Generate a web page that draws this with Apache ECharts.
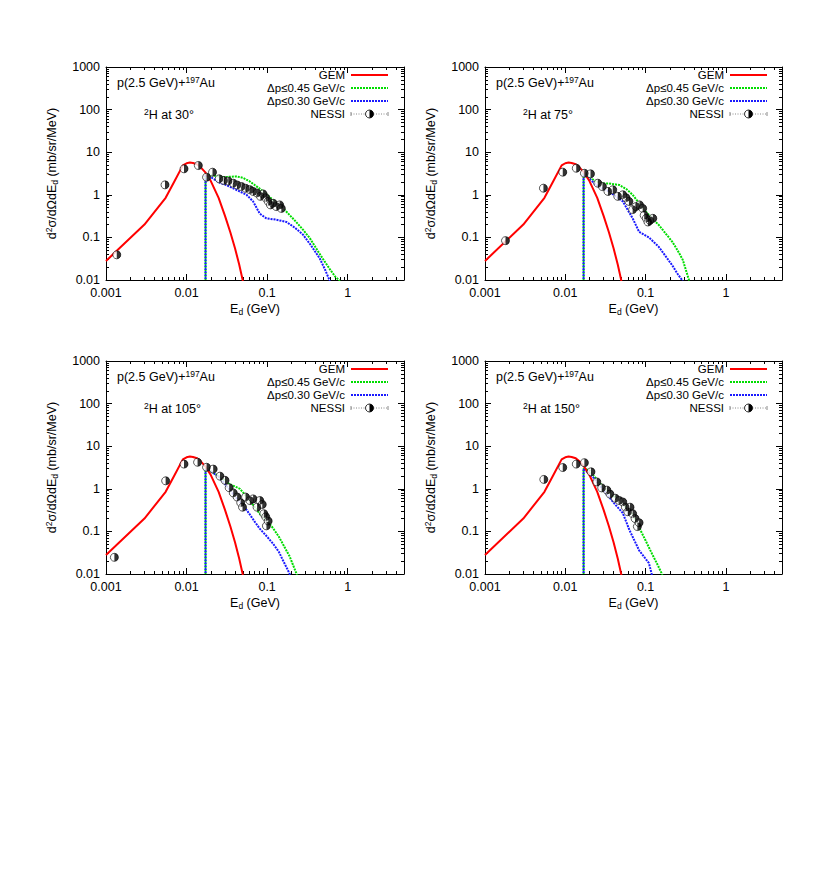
<!DOCTYPE html>
<html>
<head>
<meta charset="utf-8">
<script src="https://cdn.jsdelivr.net/npm/echarts@6/dist/echarts.min.js"></script>
<style>
  html, body { margin: 0; padding: 0; background: #fff; }
  #main { width: 817px; height: 872px; }
</style>
</head>
<body>
<div id="main"></div>
<script>
// GEM calculation (same curve for every angle)
var gemE = [0.001, 0.003, 0.0055, 0.007, 0.009, 0.010, 0.011, 0.012, 0.0135, 0.015, 0.017, 0.020, 0.025, 0.030, 0.035, 0.040, 0.045, 0.050];
var gemY = [0.028, 0.2, 0.85, 2.0, 4.9, 5.5, 5.7, 5.6, 5.2, 4.4, 3.4, 2.1, 0.85, 0.32, 0.13, 0.055, 0.023, 0.0095];

// 30 deg
var e30GE = [0.0172, 0.0172, 0.02, 0.025, 0.03, 0.035, 0.042, 0.05, 0.06, 0.07, 0.085, 0.1, 0.13, 0.17, 0.22, 0.28, 0.34, 0.42, 0.5, 0.6, 0.7, 0.8];
var e30GY = [0.01, 3.0, 2.9, 2.7, 2.6, 2.65, 2.7, 2.5, 2.1, 1.7, 1.3, 1.0, 0.65, 0.42, 0.25, 0.15, 0.095, 0.05, 0.03, 0.018, 0.012, 0.0095];
var e30BE = [0.0172, 0.0172, 0.02, 0.026, 0.031, 0.04, 0.0555, 0.067, 0.081, 0.098, 0.13, 0.174, 0.22, 0.28, 0.35, 0.45, 0.52, 0.6];
var e30BY = [0.01, 3.0, 2.6, 1.9, 1.7, 1.35, 1.0, 0.7, 0.36, 0.28, 0.26, 0.23, 0.17, 0.115, 0.065, 0.032, 0.018, 0.0095];
var e30NE = [0.00136, 0.0054, 0.0093, 0.014, 0.0177, 0.021, 0.0254, 0.029, 0.0329, 0.038, 0.0424, 0.048, 0.054, 0.061, 0.067, 0.075, 0.0825, 0.089, 0.096, 0.103, 0.11, 0.119, 0.13, 0.143, 0.15];
var e30NY = [0.039, 1.71, 4.07, 4.87, 2.59, 3.39, 2.37, 2.17, 2.1, 1.87, 1.7, 1.56, 1.42, 1.32, 1.2, 1.1, 0.92, 1.05, 0.85, 0.70, 0.58, 0.63, 0.53, 0.58, 0.48];

// 75 deg
var e75GE = [0.0169, 0.0169, 0.02, 0.024, 0.03, 0.035, 0.047, 0.058, 0.069, 0.085, 0.1, 0.125, 0.146, 0.18, 0.215, 0.25, 0.29, 0.35];
var e75GY = [0.01, 3.2, 2.6, 2.05, 1.85, 1.85, 1.7, 1.35, 1.0, 0.6, 0.41, 0.26, 0.196, 0.12, 0.079, 0.05, 0.03, 0.0095];
var e75BE = [0.0169, 0.0169, 0.02, 0.024, 0.035, 0.052, 0.069, 0.083, 0.11, 0.146, 0.18, 0.215, 0.25, 0.29];
var e75BY = [0.01, 3.2, 2.4, 1.71, 1.2, 0.70, 0.28, 0.135, 0.1, 0.06, 0.035, 0.022, 0.014, 0.0095];
var e75NE = [0.0018, 0.00534, 0.0093, 0.0137, 0.0173, 0.0206, 0.0254, 0.029, 0.034, 0.039, 0.045, 0.052, 0.057, 0.062, 0.069, 0.076, 0.084, 0.092, 0.096, 0.102, 0.107, 0.113, 0.123];
var e75NY = [0.084, 1.43, 3.4, 4.2, 3.2, 3.1, 1.87, 1.56, 1.2, 1.31, 0.92, 1.0, 0.85, 0.70, 0.45, 0.53, 0.58, 0.48, 0.33, 0.28, 0.23, 0.25, 0.28];

// 105 deg
var e105GE = [0.0172, 0.0172, 0.02, 0.026, 0.034, 0.046, 0.061, 0.081, 0.1, 0.118, 0.14, 0.19, 0.235];
var e105GY = [0.01, 3.0, 2.6, 1.9, 1.3, 1.0, 0.53, 0.26, 0.18, 0.12, 0.075, 0.026, 0.0095];
var e105BE = [0.0172, 0.0172, 0.02, 0.026, 0.038, 0.055, 0.07, 0.081, 0.1, 0.118, 0.14, 0.157, 0.175, 0.193];
var e105BY = [0.01, 3.0, 2.6, 1.8, 0.75, 0.33, 0.17, 0.116, 0.075, 0.052, 0.033, 0.021, 0.014, 0.0095];
var e105NE = [0.00127, 0.0055, 0.0093, 0.0137, 0.0177, 0.0214, 0.026, 0.03, 0.0338, 0.038, 0.0424, 0.047, 0.0495, 0.054, 0.061, 0.067, 0.075, 0.081, 0.087, 0.091, 0.096, 0.098, 0.103];
var e105NY = [0.0246, 1.54, 3.8, 4.2, 3.2, 2.9, 1.98, 1.58, 1.06, 0.80, 0.64, 0.47, 0.37, 0.64, 0.53, 0.58, 0.37, 0.53, 0.43, 0.26, 0.22, 0.135, 0.175];

// 150 deg
var e150GE = [0.0169, 0.0169, 0.02, 0.025, 0.03, 0.036, 0.047, 0.06, 0.07, 0.079, 0.1, 0.12, 0.14, 0.162];
var e150GY = [0.01, 3.0, 2.7, 1.6, 1.1, 0.8, 0.53, 0.33, 0.24, 0.15, 0.061, 0.03, 0.017, 0.0095];
var e150BE = [0.0169, 0.0169, 0.022, 0.0279, 0.039, 0.052, 0.063, 0.083, 0.11, 0.12];
var e150BY = [0.01, 3.0, 1.9, 1.1, 0.5, 0.27, 0.107, 0.036, 0.018, 0.0095];
var e150NE = [0.0054, 0.0093, 0.0137, 0.0173, 0.0209, 0.0247, 0.0284, 0.033, 0.036, 0.042, 0.047, 0.052, 0.056, 0.06, 0.064, 0.069, 0.074, 0.079, 0.083];
var e150NY = [1.66, 3.16, 3.8, 4.1, 2.5, 1.45, 1.05, 0.93, 0.75, 0.6, 0.53, 0.49, 0.37, 0.29, 0.37, 0.26, 0.2, 0.13, 0.16];

var angles = ['30', '75', '105', '150'];
var xLabels = ['0.001', '0.01', '0.1', '1'];
var yLabels = ['0.01', '0.1', '1', '10', '100', '1000'];
var legendNames = ['GEM', 'Δp≤0.45 GeV/c', 'Δp≤0.30 GeV/c', 'NESSI'];

var panels = [
  { ge: e30GE, gy: e30GY, be: e30BE, by: e30BY, ne: e30NE, ny: e30NY },
  { ge: e75GE, gy: e75GY, be: e75BE, by: e75BY, ne: e75NE, ny: e75NY },
  { ge: e105GE, gy: e105GY, be: e105BE, by: e105BY, ne: e105NE, ny: e105NY },
  { ge: e150GE, gy: e150GY, be: e150BE, by: e150BY, ne: e150NE, ny: e150NY }
];

var FONT = '"Liberation Sans", Arial, Helvetica, sans-serif';
var RED = '#ff0000', GREEN = '#00dd00', BLUE = '#1a1aff';
var rects = [[106, 67, 298, 213], [485, 67, 297, 213], [106, 361, 298, 213], [485, 361, 297, 213]];

var rich = {
  sup: { fontSize: 8.5, fontFamily: FONT, color: '#000', verticalAlign: 'top', lineHeight: 9 },
  sub: { fontSize: 8.5, fontFamily: FONT, color: '#000', verticalAlign: 'bottom', lineHeight: 9 }
};

function pairs(xs, ys) {
  return xs.map(function (x, i) { return [x, ys[i]]; });
}
function fmt(list) {
  return function (v) {
    for (var i = 0; i < list.length; i++) {
      if (Math.abs(Math.log10(v) - Math.log10(+list[i])) < 1e-6) return list[i];
    }
    return '';
  };
}

var grid = [], xAxis = [], yAxis = [], series = [], graphic = [];

rects.forEach(function (r, i) {
  grid.push({ left: r[0], top: r[1], width: r[2], height: r[3], containLabel: false });

  var line = { show: true, onZero: false, lineStyle: { color: '#000', width: 1 } };
  var tick = { show: true, inside: true, length: 6, lineStyle: { color: '#000' } };
  var minor = { show: true, splitNumber: 9, length: 3, lineStyle: { color: '#000' } };

  xAxis.push({
    gridIndex: i, type: 'log', logBase: 10, min: 0.001, max: 5, position: 'bottom',
    axisLine: line, axisTick: tick, minorTick: minor, splitLine: { show: false },
    axisLabel: { formatter: fmt(xLabels), color: '#000', fontSize: 12.5, fontFamily: FONT, margin: 6 },
    name: 'E{sub|d} (GeV)', nameLocation: 'middle', nameGap: 21,
    nameTextStyle: { color: '#000', fontSize: 12.5, fontFamily: FONT, lineHeight: 15, rich: rich }
  });
  xAxis.push({
    gridIndex: i, type: 'log', logBase: 10, min: 0.001, max: 5, position: 'top',
    axisLine: line, axisTick: tick, minorTick: minor, splitLine: { show: false },
    axisLabel: { show: false }
  });
  yAxis.push({
    gridIndex: i, type: 'log', logBase: 10, min: 0.01, max: 1000, position: 'left',
    axisLine: line, axisTick: tick, minorTick: minor, splitLine: { show: false },
    axisLabel: { formatter: fmt(yLabels), color: '#000', fontSize: 12.5, fontFamily: FONT, margin: 6 },
    name: 'd{sup|2}σ/dΩdE{sub|d} (mb/sr/MeV)', nameLocation: 'middle', nameGap: 47, nameRotate: 90,
    nameTextStyle: { color: '#000', fontSize: 12.5, fontFamily: FONT, lineHeight: 15, rich: rich }
  });
  yAxis.push({
    gridIndex: i, type: 'log', logBase: 10, min: 0.01, max: 1000, position: 'right',
    axisLine: line, axisTick: tick, minorTick: minor, splitLine: { show: false },
    axisLabel: { show: false }
  });

  var p = panels[i];
  var xi = 2 * i, yi = 2 * i;
  series.push({
    type: 'line', name: legendNames[1], xAxisIndex: xi, yAxisIndex: yi, data: pairs(p.ge, p.gy),
    symbol: 'none', clip: true, lineStyle: { color: GREEN, width: 2, type: [2, 1] }, z: 2
  });
  series.push({
    type: 'line', name: legendNames[2], xAxisIndex: xi, yAxisIndex: yi, data: pairs(p.be, p.by),
    symbol: 'none', clip: true, lineStyle: { color: BLUE, width: 2, type: [2, 1], dashOffset: 1.5 }, z: 2
  });
  series.push({
    type: 'line', name: legendNames[0], xAxisIndex: xi, yAxisIndex: yi, data: pairs(gemE, gemY),
    symbol: 'none', clip: true, lineStyle: { color: RED, width: 2 }, z: 2
  });
  // NESSI: white disc with black right half
  series.push({
    type: 'scatter', name: legendNames[3], xAxisIndex: xi, yAxisIndex: yi, data: pairs(p.ne, p.ny),
    symbol: 'circle', symbolSize: 8,
    itemStyle: { color: '#fff', borderColor: '#000', borderWidth: 0.8 }, z: 4
  });
  series.push({
    type: 'scatter', name: legendNames[3] + ' half', xAxisIndex: xi, yAxisIndex: yi, data: pairs(p.ne, p.ny),
    symbol: 'path://M0,0A10,10 0 0 1 0,20Z', symbolSize: [4, 8], symbolOffset: [2, 0],
    itemStyle: { color: '#000' }, z: 5
  });

  // legend + annotations, placed in grid coordinates
  function label(text, x, y, align, size, lh) {
    return {
      type: 'text',
      style: {
        text: text, x: x, y: y, align: align, verticalAlign: 'middle',
        fill: '#000', fontSize: size, fontFamily: FONT, lineHeight: lh, rich: rich
      }
    };
  }
  var rows = [8, 21, 34, 47];
  var tx = 239, l0 = 245, l1 = 282, lm = (l0 + l1) / 2;
  var children = [
    label('p(2.5 GeV)+{sup|197}Au', 11, 16, 'left', 12.5, 15),
    label('{sup|2}H at ' + angles[i] + '°', 38, 48, 'left', 12.5, 15)
  ];
  var colors = [RED, GREEN, BLUE];
  for (var k = 0; k < 4; k++) {
    children.push(label(legendNames[k], tx, rows[k], 'right', 11.5, 12));
  }
  for (k = 0; k < 3; k++) {
    children.push({
      type: 'line', shape: { x1: l0, y1: rows[k], x2: l1, y2: rows[k] },
      style: { stroke: colors[k], lineWidth: 2, lineDash: k === 0 ? null : [2, 1] }
    });
  }
  children.push(
    { type: 'line', shape: { x1: l0, y1: rows[3], x2: l1, y2: rows[3] }, style: { stroke: '#888', lineWidth: 1, lineDash: [1, 1.5] } },
    { type: 'line', shape: { x1: l0, y1: rows[3] - 2, x2: l0, y2: rows[3] + 2 }, style: { stroke: '#888', lineWidth: 1 } },
    { type: 'line', shape: { x1: l1, y1: rows[3] - 2, x2: l1, y2: rows[3] + 2 }, style: { stroke: '#888', lineWidth: 1 } },
    { type: 'circle', shape: { cx: lm, cy: rows[3], r: 4 }, style: { fill: '#fff', stroke: '#000', lineWidth: 0.8 } },
    { type: 'sector', shape: { cx: lm, cy: rows[3], r0: 0, r: 4, startAngle: -Math.PI / 2, endAngle: Math.PI / 2, clockwise: true }, style: { fill: '#000' } }
  );
  graphic.push({ type: 'group', left: r[0], top: r[1], bounding: 'raw', children: children });
});

var chart = echarts.init(document.getElementById('main'), null, { renderer: 'svg' });
chart.setOption({
  backgroundColor: '#fff',
  animation: false,
  grid: grid,
  xAxis: xAxis,
  yAxis: yAxis,
  series: series,
  graphic: graphic
});
</script>
</body>
</html>
